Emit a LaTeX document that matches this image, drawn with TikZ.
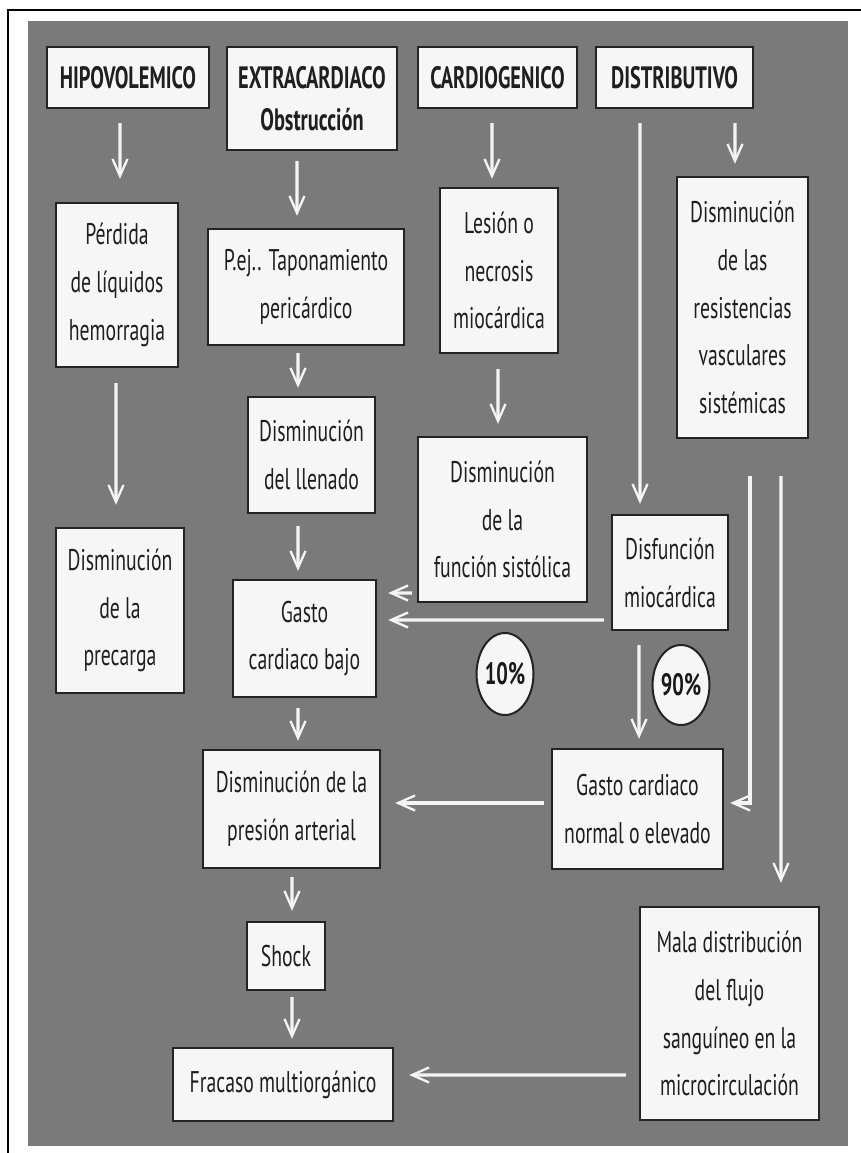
\documentclass[tikz,border=0pt]{standalone}
\usepackage{fontspec}
\setmainfont{PT Sans}[FakeStretch=0.66]
\usetikzlibrary{arrows.meta,shapes.geometric}
\definecolor{panel}{RGB}{122,122,122}
\definecolor{boxfill}{RGB}{246,246,246}
\definecolor{boxline}{RGB}{35,35,35}
\definecolor{flow}{RGB}{244,244,244}
\tikzset{
  box/.style={draw=boxline, fill=boxfill, line width=2.4bp, inner sep=0pt,
    align=center, text=black!88, font=\fontsize{30}{48}\selectfont},
  head/.style={box, font=\bfseries\fontsize{31}{42}\selectfont},
  sz/.style 2 args={minimum width=#1bp, minimum height=#2bp},
  pct/.style={ellipse, draw=boxline, fill=boxfill, line width=2bp, inner sep=0pt,
    text=black!90, font=\bfseries\fontsize{31}{34}\selectfont},
  arr/.style={draw=flow, line width=3.4bp,
    -{Straight Barb[length=17bp,width=15bp,line width=2.3bp]}},
}
\begin{document}
\begin{tikzpicture}[x=1bp,y=-1bp]
\useasboundingbox (0,0) rectangle (861,1153);
% page frame and grey panel
\draw[line width=2bp] (8,1153) -- (8,10) -- (861,10);
\fill[panel] (28,21) rectangle (848,1146);

% shock types
\node[head, sz={162}{61}] (hipo)    at (128,77.5)  {HIPOVOLEMICO};
\node[head, sz={170}{103}] (extra)  at (312,98.5)  {EXTRACARDIACO\\Obstrucción};
\node[head, sz={159}{61}] (cardio)  at (497.5,77.5) {CARDIOGENICO};
\node[head, sz={157}{61}] (distrib) at (674.5,77.5) {DISTRIBUTIVO};

% mechanisms
\node[box, sz={122}{164}] (perdida)  at (117,285)    {Pérdida\\de líquidos\\hemorragia};
\node[box, sz={196}{116}] (tapon)    at (306,287)    {P.ej.. Taponamiento\\pericárdico};
\node[box, sz={118}{165}] (lesion)   at (499,270.5)  {Lesión o\\necrosis\\miocárdica};
\node[box, sz={131}{261}] (resist)   at (742.5,307.5) {Disminución\\de las\\resistencias\\vasculares\\sistémicas};
\node[box, sz={127}{116}] (llenado)  at (311.5,455)  {Disminución\\del llenado};
\node[box, sz={169}{165}] (sistol)   at (502.5,519.5) {Disminución\\de la\\función sistólica};
\node[box, sz={128}{165}] (precarga) at (120,610.5)  {Disminución\\de la\\precarga};
\node[box, sz={116}{115}] (disfun)   at (670,572.5)  {Disfunción\\miocárdica};
\node[box, sz={143}{117}] (bajo)     at (304.5,638.5) {Gasto\\cardiaco bajo};
\node[box, sz={171}{120}] (normal)   at (637.5,809)  {Gasto cardiaco\\normal o elevado};
\node[box, sz={177}{118}] (presion)  at (291.5,809)  {Disminución de la\\presión arterial};
\node[box, sz={78}{68}]   (shock)    at (286,956)    {Shock};
\node[box, sz={220}{73}]  (fracaso)  at (283,1084.5) {Fracaso multiorgánico};
\node[box, sz={179}{213}] (mala)     at (729.5,1013.5) {Mala distribución\\del flujo\\sanguíneo en la\\microcirculación};

% proportions
\node[pct, minimum width=54bp, minimum height=82bp] (p10) at (505,674) {10\%};
\node[pct, minimum width=54bp, minimum height=80bp] (p90) at (681,685) {90\%};

% connectors
\draw[arr] ([xshift=-8bp,yshift=-14bp]hipo.south) -- ([xshift=3bp,yshift=23bp]perdida.north);
\draw[arr] ([xshift=-15bp,yshift=-10bp]extra.south) -- ([xshift=-9bp,yshift=12bp]tapon.north);
\draw[arr] ([xshift=-5.5bp,yshift=-14bp]cardio.south) -- ([xshift=-7bp,yshift=8bp]lesion.north);
\draw[arr] ([xshift=-34.5bp,yshift=-14bp]distrib.south) -- ([xshift=-30bp,yshift=10bp]disfun.north);
\draw[arr] ([xshift=60.5bp,yshift=-14bp]distrib.south) -- ([xshift=-7.5bp,yshift=12bp]resist.north);
\draw[arr] ([xshift=-1bp,yshift=-15bp]perdida.south) -- ([xshift=-4bp,yshift=22bp]precarga.north);
\draw[arr] ([xshift=-8bp,yshift=-7bp]tapon.south) -- ([xshift=-13.5bp,yshift=8bp]llenado.north);
\draw[arr] ([xshift=-1bp,yshift=-15bp]lesion.south) -- ([xshift=-4.5bp,yshift=12bp]sistol.north);
\draw[arr] ([xshift=-13.5bp,yshift=-12bp]llenado.south) -- ([xshift=-6.5bp,yshift=8bp]bajo.north);
\draw[arr] ([xshift=-5bp,yshift=-73.5bp]sistol.west) -- ([xshift=11bp,yshift=45.5bp]bajo.east);
\draw[arr] ([xshift=-7bp,yshift=-47.5bp]disfun.west) -- ([xshift=11bp,yshift=18.5bp]bajo.east);
\draw[arr] ([xshift=-31bp,yshift=-14bp]disfun.south) -- ([xshift=1.5bp,yshift=9bp]normal.north);
\draw[arr] ([xshift=-6.5bp,yshift=-10bp]bajo.south) -- ([xshift=6.5bp,yshift=8bp]presion.north);
\draw[arr] ([xshift=-7bp,yshift=6bp]normal.west) -- ([xshift=14bp,yshift=6bp]presion.east);
\draw[arr] ([xshift=7.5bp,yshift=-37bp]resist.south) |- ([xshift=6bp,yshift=6bp]normal.east);
\draw[arr] ([xshift=38.5bp,yshift=-37bp]resist.south) -- ([xshift=51.5bp,yshift=23bp]mala.north);
\draw[arr] ([xshift=0.5bp,yshift=-8bp]presion.south) -- ([xshift=6bp,yshift=10bp]shock.north);
\draw[arr] ([xshift=6bp,yshift=-6bp]shock.south) -- ([xshift=9bp,yshift=8bp]fracaso.north);
\draw[arr] ([xshift=-13bp,yshift=-61.5bp]mala.west) -- ([xshift=15bp,yshift=9.5bp]fracaso.east);
\end{tikzpicture}
\end{document}
